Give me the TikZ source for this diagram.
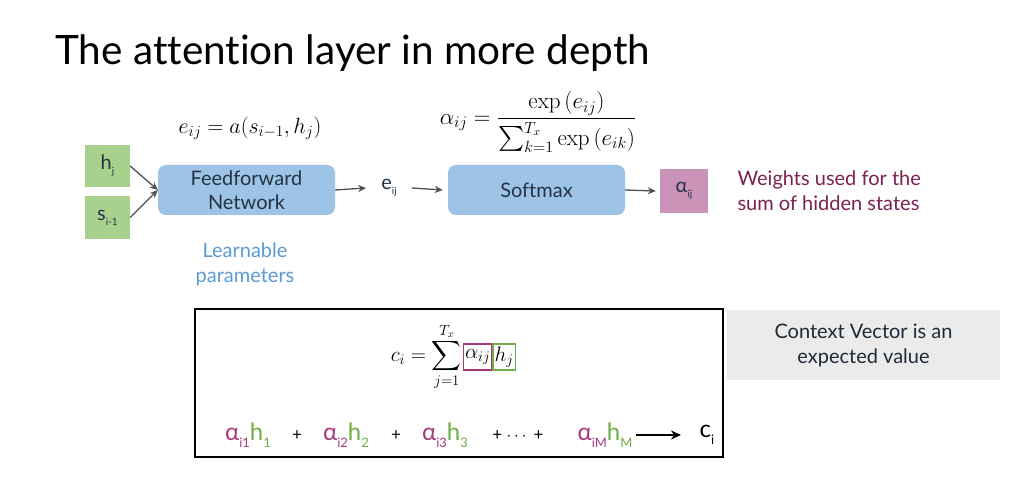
\RequirePackage{fix-cm}
\documentclass[tikz,border=0pt]{standalone}
\usepackage{amsmath}
\usepackage[no-math]{fontspec}
\setmainfont{Lato}[Ligatures=NoCommon]
\usetikzlibrary{positioning,arrows.meta}

\definecolor{boxgreen}{HTML}{A9D18E}
\definecolor{boxblue}{HTML}{9DC3E6}
\definecolor{boxpink}{HTML}{CC93B8}
\definecolor{boxtext}{HTML}{243445}
\definecolor{weighttext}{HTML}{7B2252}
\definecolor{learnblue}{HTML}{5B9BD5}
\definecolor{hgreen}{HTML}{70AD47}
\definecolor{amag}{HTML}{A8387E}
\definecolor{notegray}{HTML}{EBEBEB}
\definecolor{arrowgray}{HTML}{505050}

\newcommand{\fsz}[1]{\fontsize{#1}{#1}\selectfont}
\newcommand{\lo}[1]{\raisebox{-0.5ex}{\fontsize{10}{10}\selectfont #1}}
\newcommand{\lob}[1]{\raisebox{-0.55ex}{\fontsize{13}{13}\selectfont #1}}
\newcommand{\ah}[2]{\textcolor{amag}{α\lob{i#1}}\textcolor{hgreen}{h\lob{#2}}}

\tikzset{
  inbox/.style={fill=boxgreen, minimum width=45, minimum height=42, inner sep=0, text=boxtext, font=\fsz{20}},
  netbox/.style={fill=boxblue, rounded corners=8, minimum width=177, minimum height=50, align=center, text=boxtext, font=\fontsize{20}{24}\selectfont},
  flow/.style={-{Stealth[length=8,width=7]}, line width=1.3, draw=arrowgray},
  eq/.style={font=\fsz{22}, inner sep=0},
  note/.style={align=center, font=\fontsize{20}{25}\selectfont},
  term/.style={font=\fsz{24}, inner sep=0},
}

\begin{document}
\begin{tikzpicture}[x=1pt, y=-1pt]

\useasboundingbox[fill=white] (0,0) rectangle (1025,489);

% title
\node[anchor=base west, inner sep=0, font=\fsz{40.5}] (title) at (55,65) {The attention layer in more depth};

% inputs and scores
\node[inbox] (hj) at (107.5,166) {h\lo{j}};
\node[inbox] (si) at (107.5,217.5) {s\lo{i-1}};
\node[netbox] (ffn) at (246.5,190) {Feedforward\\Network};
\node[eq] (eform) at (250,128) {$e_{ij} = a(s_{i-1},h_j)$};
\node[note, text=learnblue] (learn) at (245,264) {Learnable\\parameters};

\draw[flow] (hj.east) -- (ffn.west);
\draw[flow] (si.east) -- (ffn.west);

\node[text=boxtext, font=\fsz{20}, inner sep=3] (eij) at (389,188) {e\lo{ij}};
\draw[flow] (ffn.east) -- ([xshift=-12]eij.west);

% softmax
\node[netbox] (soft) at (536.5,190) {Softmax};
\node[eq, font=\fsz{23}] (aform) at (538,122) {$\alpha_{ij} = \dfrac{\exp\left(e_{ij}\right)}{\sum_{k=1}^{T_x}\exp\left(e_{ik}\right)}$};
\draw[flow] ([xshift=12]eij.east) -- ([xshift=-5]soft.west);

\node[fill=boxpink, minimum width=48, minimum height=44, inner sep=0, text=boxtext, font=\fsz{20}] (aij) at (684,191) {α\lo{ij}};
\draw[flow] (soft.east) -- ([xshift=-4]aij.west);
\node[note, anchor=west, align=left, text=weighttext] (weights) at (734,191) {Weights used for the\\sum of hidden states};

% context vector
\draw[line width=1.6] (195,309) rectangle (723,457);
\node[eq, anchor=east, font=\fsz{21}] (csum) at (462,357) {$c_i = \displaystyle\sum_{j=1}^{T_x}$};
\node[draw=amag, line width=1.2, inner sep=1.5, minimum height=26, font=\fsz{21}, right=1 of csum] (abox) {$\alpha_{ij}$};
\node[draw=hgreen, line width=1.2, inner sep=1.5, minimum height=26, font=\fsz{21}, right=0 of abox] (hbox) {$h_j$};

\node[term] (t1) at (248,435) {\ah{1}{1}};
\node[font=\fsz{17}] (p1) at (297,436) {+};
\node[term] (t2) at (346,435) {\ah{2}{2}};
\node[font=\fsz{17}] (p2) at (396,436) {+};
\node[term] (t3) at (445,435) {\ah{3}{3}};
\node[font=\fsz{17}] (p3) at (518,436) {+ $\cdots$ +};
\node[term] (tm) at (605,435) {\ah{M}{M}};
\node[term] (ci) at (707,435) {c\lob{i}};
\coordinate (cend) at (681,435);
\draw[-{Stealth[length=10,width=9]}, line width=1.8] ([xshift=3]tm.east) -- (cend);

\node[note, fill=notegray, minimum width=273, minimum height=70, text=boxtext!80!black] (ctx) at (863.5,345) {Context Vector is an\\expected value};

\end{tikzpicture}
\end{document}
